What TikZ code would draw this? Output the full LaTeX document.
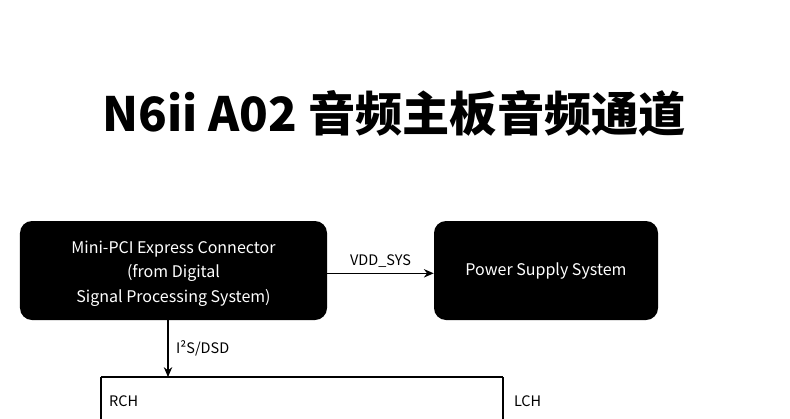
\documentclass[tikz,border=0pt]{standalone}
\usepackage{fontspec}
\setmainfont{Noto Sans CJK SC}
\usetikzlibrary{positioning,arrows.meta}

\tikzstyle{block} = [fill=black, text=white, rectangle, rounded corners=3mm, align=center, font=\fontsize{11.4}{17.6}\selectfont]
\tikzstyle{sig}   = [-{Stealth[length=7pt,width=6pt]}, line width=1pt]
\tikzstyle{lbl}   = [font=\fontsize{10.3}{12}\selectfont]

\begin{document}
\begin{tikzpicture}
  \useasboundingbox (0,0) rectangle (19.75,-10.45);
  \node at (9.86,-2.83) (title) {\fontsize{33.6}{40}\selectfont\bfseries N6ii A02 音频主板音频通道};
  \node at (4.3375,-6.7625) (mpci) [block, minimum width=7.675cm, minimum height=2.475cm]
    {\rule{0pt}{13.5pt}Mini-PCI Express Connector\\(from Digital\\Signal Processing System)};
  \node at (13.65,-6.7625) (pss) [block, minimum width=5.6cm, minimum height=2.475cm]
    {Power Supply System};
  \draw[sig] ([yshift=-2pt]mpci.east) -- node[above=0pt, lbl] {VDD\_SYS} ([yshift=-2pt]pss.west);
  % output bus
  \coordinate (bus)  at (4.2,-9.425);
  \coordinate (rtop) at (2.525,-9.425);
  \coordinate (ltop) at (12.575,-9.425);
  \coordinate (rout) at (2.525,-10.78);
  \coordinate (lout) at (12.575,-10.78);
  \draw[sig] (mpci.south -| bus) -- node[right=2pt, lbl] {I²S/DSD} (bus);
  \draw[line width=1pt] (rtop) -- (ltop);
  \draw[sig] (rtop) -- node[right=2pt, lbl, pos=0.45] {RCH} (rout);
  \draw[sig] (ltop) -- node[right=4pt, lbl, pos=0.45] {LCH} (lout);
\end{tikzpicture}
\end{document}
